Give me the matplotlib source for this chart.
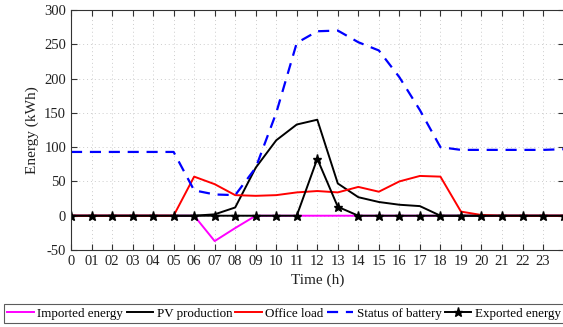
import matplotlib
matplotlib.use("Agg")
import matplotlib.pyplot as plt
import numpy as np

hours = list(range(25))
tick_labels = ["0", "01", "02", "03", "04", "05", "06", "07", "08", "09", "10", "11",
               "12", "13", "14", "15", "16", "17", "18", "19", "20", "21", "22", "23"]

imported = [0, 0, 0, 0, 0, 0, 0, -37, -18, 0, 0, 0, 0, 0, 0, 0, 0, 0, 0, 0, 0, 0, 0, 0, 0]
pv = [0, 0, 0, 0, 0, 0, 0, 2, 12, 70, 110, 133, 140, 47, 27, 20, 16, 14, 0, 0, 0, 0, 0, 0, 0]
office = [0, 0, 0, 0, 0, 0, 57, 46, 30, 29, 30, 34, 36, 34, 42, 35, 50, 58, 57, 6, 1, 0, 0, 0, 0]
battery = [93, 93, 93, 93, 93, 93, 37, 31, 30, 70, 150, 252, 269, 270, 253, 241, 202, 154, 100, 96, 96, 96, 96, 96, 97]
exported = [0, 0, 0, 0, 0, 0, 0, 0, 0, 0, 0, 0, 83, 13, 0, 0, 0, 0, 0, 0, 0, 0, 0, 0, 0]

plt.rcParams['font.family'] = ['Liberation Serif', 'DejaVu Serif']
plt.rcParams['font.size'] = 10
plt.rcParams['axes.unicode_minus'] = False

fig = plt.figure(figsize=(5.63, 3.27), dpi=100)
ax = fig.add_axes([71/563, 1-250/327, 1-71/563 + 0.001, 240/327])

ax.plot(hours, imported, color='magenta', lw=1.4, label='Imported energy')
ax.plot(hours, pv, color='black', lw=1.4, label='PV production')
ax.plot(hours, office, color='red', lw=1.4, label='Office load')
ax.plot(hours, battery, color='blue', lw=1.6, ls=(0, (5, 3.5)), label='Status of battery')
ax.plot(hours, exported, color='black', lw=1.4, marker='*', ms=6.5, label='Exported energy')

ax.set_xlim(0, 24)
ax.set_ylim(-50, 300)
ax.set_xticks(range(24))
ax.set_xticklabels(tick_labels)
ax.set_yticks(range(-50, 301, 50))
ax.grid(True, ls=(0, (1, 3)), color='#cccccc', lw=0.7)
ax.tick_params(direction='in', top=True, right=True, length=4, labelsize=10.5, colors='#333333', labelcolor='#222222')
for s in ax.spines.values():
    s.set_color('#333333')
    s.set_linewidth(0.8)
ax.set_xlabel('Time (h)', fontsize=11, color='#222222', labelpad=4)
ax.set_ylabel('Energy (kWh)', fontsize=11, color='#222222', labelpad=4)

leg = fig.legend(loc='lower center', bbox_to_anchor=(0.505, 0.0), ncol=5, fontsize=9.4,
                 frameon=True, fancybox=False, edgecolor='#333333', handlelength=2.0,
                 columnspacing=0.25, handletextpad=0.3, borderpad=0.25, borderaxespad=0.3)
leg.get_frame().set_linewidth(0.8)

fig.savefig('out.png', dpi=100)
